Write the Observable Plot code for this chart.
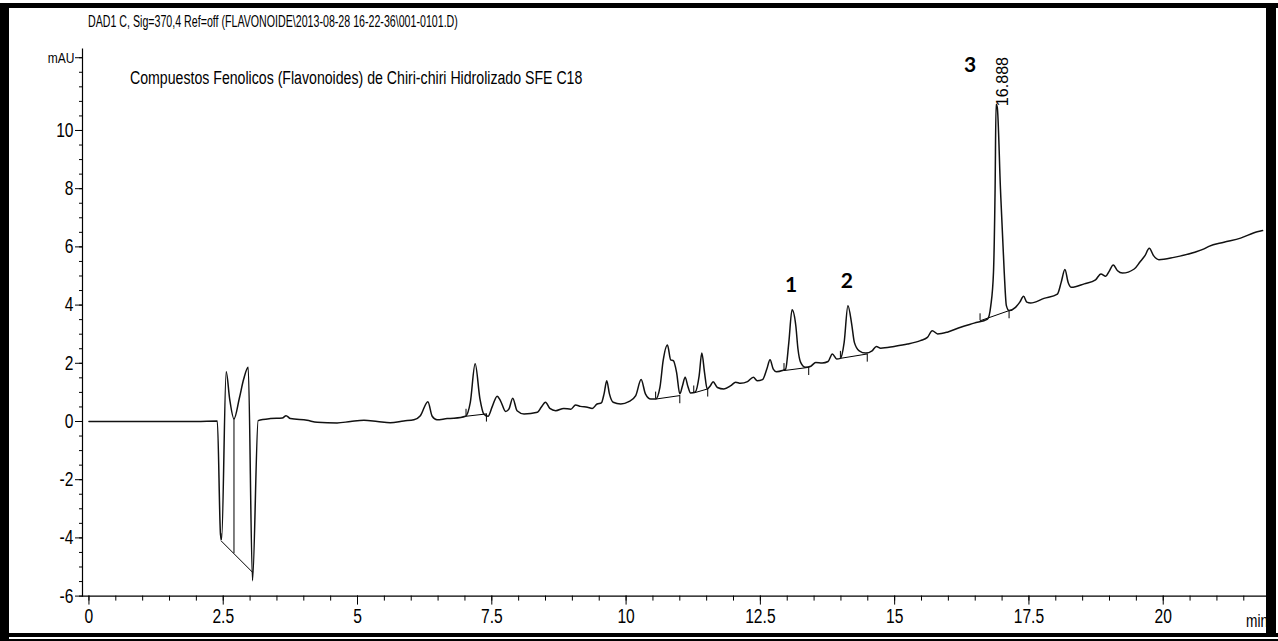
<!DOCTYPE html>
<html>
<head>
<meta charset="utf-8">
<script src="https://cdn.jsdelivr.net/npm/d3@7"></script>
<script src="https://cdn.jsdelivr.net/npm/@observablehq/plot@0.6"></script>
<style>
  body { margin: 0; background: #fff; }
  #wrap { position: relative; width: 1278px; height: 641px; overflow: hidden; background: #fff;
          font-family: "Liberation Sans", Arial, sans-serif; color: #000; }
  #chart { position: absolute; left: 0; top: 0; }
  .txt { position: absolute; white-space: nowrap; line-height: 1; transform-origin: left center; }
  #title { left: 88px; top: 14px; font-size: 16px; transform: scaleX(0.665); }
  #subtitle { left: 130px; top: 69px; font-size: 18px; transform: scaleX(0.785); }
  #unit { left: 1246px; top: 611px; font-size: 19px; transform: scaleX(0.72); }
  .bar { position: absolute; background: #000; }
</style>
</head>
<body>
<div id="wrap">
  <div id="chart"></div>
  <div class="txt" id="title">DAD1 C, Sig=370,4 Ref=off (FLAVONOIDE\2013-08-28 16-22-36\001-0101.D)</div>
  <div class="txt" id="subtitle">Compuestos Fenolicos (Flavonoides) de Chiri-chiri Hidrolizado SFE C18</div>
  <div class="txt" id="unit">min</div>
  <div class="bar" style="left:0;top:3px;width:1278px;height:5px"></div>
  <div class="bar" style="left:0;top:3px;width:9px;height:638px"></div>
  <div class="bar" style="left:1266px;top:3px;width:10px;height:634px"></div>
  <div class="bar" style="left:0;top:633px;width:1278px;height:4px"></div>
  <div class="bar" style="left:0;top:639px;width:1278px;height:2px"></div>
</div>
<script>
// ---- chromatogram trace (retention time in min, signal in mAU) ----
const traceTime = [
  0, 1.0, 2.0, 2.39, 2.45, 2.47, 2.555, 2.62, 2.70, 2.80, 2.88, 2.965, 3.045, 3.15,
  3.38, 3.60, 3.67, 3.75, 4.06, 4.25, 4.62, 4.87, 5.12, 5.37, 5.61, 5.86, 6.05, 6.17,
  6.31, 6.39, 6.48, 6.67, 6.79, 7.01, 7.10, 7.19, 7.28, 7.35, 7.43, 7.51, 7.60, 7.66,
  7.76, 7.82, 7.89, 7.97, 8.10, 8.35, 8.42, 8.50, 8.58, 8.69, 8.84, 8.97, 9.06, 9.15,
  9.28, 9.37, 9.46, 9.54, 9.59, 9.64, 9.69, 9.76, 9.90, 10.05, 10.18, 10.28, 10.36,
  10.46, 10.55, 10.63, 10.69, 10.77, 10.83, 10.88, 10.94, 11.00, 11.05, 11.10, 11.15,
  11.20, 11.29, 11.36, 11.41, 11.46, 11.51, 11.57, 11.62, 11.70, 11.82, 11.95, 12.04,
  12.13, 12.26, 12.37, 12.44, 12.54, 12.62, 12.68, 12.74, 12.80, 12.91, 12.97, 13.03,
  13.09, 13.16, 13.20, 13.25, 13.34, 13.44, 13.53, 13.65, 13.76, 13.84, 13.92, 13.99,
  14.06, 14.13, 14.20, 14.25, 14.34, 14.46, 14.58, 14.66, 14.74, 14.99, 15.24, 15.48,
  15.61, 15.70, 15.80, 15.98, 16.23, 16.48, 16.73, 16.79, 16.84, 16.87, 16.888, 16.91,
  16.97, 17.04, 17.08, 17.13, 17.25, 17.33, 17.40, 17.46, 17.53, 17.78, 18.03, 18.10,
  18.17, 18.23, 18.29, 18.53, 18.74, 18.84, 18.93, 18.99, 19.07, 19.15, 19.24, 19.46,
  19.57, 19.66, 19.74, 19.82, 19.92, 20.20, 20.57, 20.76, 20.85, 21.13, 21.44, 21.75, 21.85
];
const traceMAU = [
  0, 0, 0, 0.02, -3.9, -4.05, 1.71, 0.77, 0.09, 0.8, 1.45, 1.86, -5.47, 0.03,
  0.10, 0.12, 0.20, 0.10, 0.04, -0.03, -0.05, 0.0, 0.04, 0.0, -0.04, 0.02, 0.06, 0.20,
  0.68, 0.18, 0.06, 0.10, 0.11, 0.18, 0.66, 1.98, 0.77, 0.26, 0.18, 0.52, 0.87, 0.72,
  0.34, 0.43, 0.80, 0.37, 0.26, 0.32, 0.49, 0.66, 0.45, 0.37, 0.45, 0.42, 0.57, 0.52,
  0.49, 0.45, 0.60, 0.64, 0.95, 1.40, 0.95, 0.66, 0.60, 0.68, 0.89, 1.44, 0.95,
  0.77, 0.77, 1.17, 2.09, 2.63, 2.12, 2.09, 1.69, 0.95, 1.23, 1.52, 1.21,
  0.98, 1.02, 1.57, 2.35, 1.69, 1.12, 1.23, 1.37, 1.17, 1.12, 1.23, 1.35,
  1.31, 1.37, 1.52, 1.40, 1.44, 1.80, 2.12, 1.80, 1.71, 1.75, 1.80, 2.72,
  3.84, 3.29, 2.49, 2.03, 1.86, 1.90, 2.03, 2.01, 2.06, 2.32, 2.15, 2.17,
  2.72, 3.98, 3.35, 2.72, 2.43, 2.35, 2.43, 2.58, 2.52, 2.58, 2.66, 2.78,
  2.89, 3.12, 3.01, 3.07, 3.24, 3.38, 3.52, 3.98, 5.13, 7.99, 10.9, 10.8,
  7.99, 5.13, 3.98, 3.81, 3.92, 4.10, 4.30, 4.10, 4.07, 4.23, 4.38, 4.78,
  5.22, 4.78, 4.61, 4.73, 4.87, 5.07, 4.99, 5.15, 5.38, 5.18, 5.10, 5.24,
  5.49, 5.70, 5.95, 5.70, 5.56, 5.64, 5.81, 5.93, 6.02, 6.16, 6.30, 6.52, 6.56
];

// ---- integration baselines (start/end of each integrated peak) ----
const baseStartTime = [2.46, 7.02, 10.55, 11.26, 12.94, 13.99, 16.59];
const baseStartMAU  = [-4.10, 0.18, 0.77, 0.98, 1.75, 2.17, 3.46];
const baseEndTime   = [3.045, 7.40, 11.00, 11.52, 13.40, 14.49, 17.13];
const baseEndMAU    = [-5.18, 0.26, 0.89, 1.12, 1.86, 2.32, 3.81];
// vertical drop line at the valley of the solvent front
const dropTime = [2.70];
const dropTopMAU = [0.09];
const dropBottomMAU = [-4.54];

// ---- annotated peaks ----
const peakNames  = ["1", "2", "3"];
const peakTimes  = [13.09, 14.13, 16.888];
const peakHeights = [3.84, 3.98, 10.9];
const rtLabel = "16.888";

// ---- axis ticks ----
const xTickLabels = [0, 2.5, 5, 7.5, 10, 12.5, 15, 17.5, 20];
const yTickLabels = [-6, -4, -2, 0, 2, 4, 6, 8, 10];
const yUnitTick = [12.5];
const yUnitLabel = "mAU";

// ---- build tables ----
const trace = traceTime.map((t, i) => ({t, v: traceMAU[i]}));
const baselines = baseStartTime.map((t1, i) => ({t1, v1: baseStartMAU[i], t2: baseEndTime[i], v2: baseEndMAU[i]}));
const drops = dropTime.map((t, i) => ({t, v1: dropTopMAU[i], v2: dropBottomMAU[i]}));
const peaks = peakNames.map((name, i) => ({name, t: peakTimes[i], v: peakHeights[i]}));
const xMinor = d3.range(0, 21.75, 0.5);
const yMinor = d3.range(-6, 12.75, 0.5);

const sans = '"Liberation Sans", Arial, sans-serif';

const chart = Plot.plot({
  width: 1278,
  height: 641,
  marginLeft: 82,
  marginRight: 10,
  marginTop: 48.5,
  marginBottom: 45.4,
  x: {domain: [-0.12, 21.96]},
  y: {domain: [-6, 12.8]},
  style: {fontFamily: sans, fontSize: "20px", background: "transparent", color: "#000"},
  marks: [
    Plot.frame({anchor: "left", stroke: "#000", strokeWidth: 1.2}),
    Plot.frame({anchor: "bottom", stroke: "#000", strokeWidth: 1.2}),
    Plot.axisY(yMinor, {tickSize: 3, tickFormat: () => "", label: null}),
    Plot.axisY(yTickLabels, {tickSize: 7, tickPadding: 2, tickFormat: d => String(d), label: null}),
    Plot.axisY(yUnitTick, {tickSize: 7, tickPadding: 1, tickFormat: () => yUnitLabel, label: null, className: "unit-label"}),
    Plot.axisX(xMinor, {tickSize: 5, tickFormat: () => "", label: null}),
    Plot.axisX(xTickLabels, {tickSize: 9, tickPadding: 4, tickFormat: d => String(d), label: null}),
    Plot.link(baselines, {x1: "t1", y1: "v1", x2: "t2", y2: "v2", stroke: "#000", strokeWidth: 1}),
    Plot.ruleX(baselines, {x: "t1", y1: "v1", y2: d => d.v1 + 0.24, stroke: "#000", strokeWidth: 1}),
    Plot.ruleX(baselines, {x: "t2", y1: "v2", y2: d => d.v2 - 0.28, stroke: "#000", strokeWidth: 1}),
    Plot.ruleX(drops, {x: "t", y1: "v1", y2: "v2", stroke: "#000", strokeWidth: 1}),
    Plot.line(trace, {x: "t", y: "v", curve: "monotone-x", stroke: "#111", strokeWidth: 1.5}),
    Plot.text(peaks.slice(0, 2), {x: "t", y: "v", text: "name", dy: -24, dx: -1,
      fontFamily: "Lato, 'Open Sans', sans-serif", fontWeight: "bold", fontSize: 21}),
    Plot.text(peaks.slice(2), {x: "t", y: "v", text: "name", dy: -39, dx: -26,
      fontFamily: "Lato, 'Open Sans', sans-serif", fontWeight: "bold", fontSize: 21}),
    Plot.text(peaks.slice(2), {x: "t", y: "v", text: () => rtLabel, rotate: -90, textAnchor: "start",
      dx: 6, dy: 2, fontFamily: sans, fontSize: 17, className: "rt-label"})
  ]
});
document.getElementById("chart").appendChild(chart);

// condense the tick labels like the narrow instrument font
function condense(sel, size, factor) {
  chart.querySelectorAll(sel).forEach(t => {
    if (size) t.style.fontSize = size + "px";
    const len = t.getComputedTextLength();
    if (len > 0) {
      t.setAttribute("textLength", (len * factor).toFixed(2));
      t.setAttribute("lengthAdjust", "spacingAndGlyphs");
    }
  });
}
condense('g[aria-label="y-axis tick label"]:not(.unit-label) text', 20, 0.78);
condense('.unit-label text', 15, 0.8);
condense('g[aria-label="x-axis tick label"] text', 20, 0.78);
condense('.rt-label text', 0, 0.95);
</script>
</body>
</html>
